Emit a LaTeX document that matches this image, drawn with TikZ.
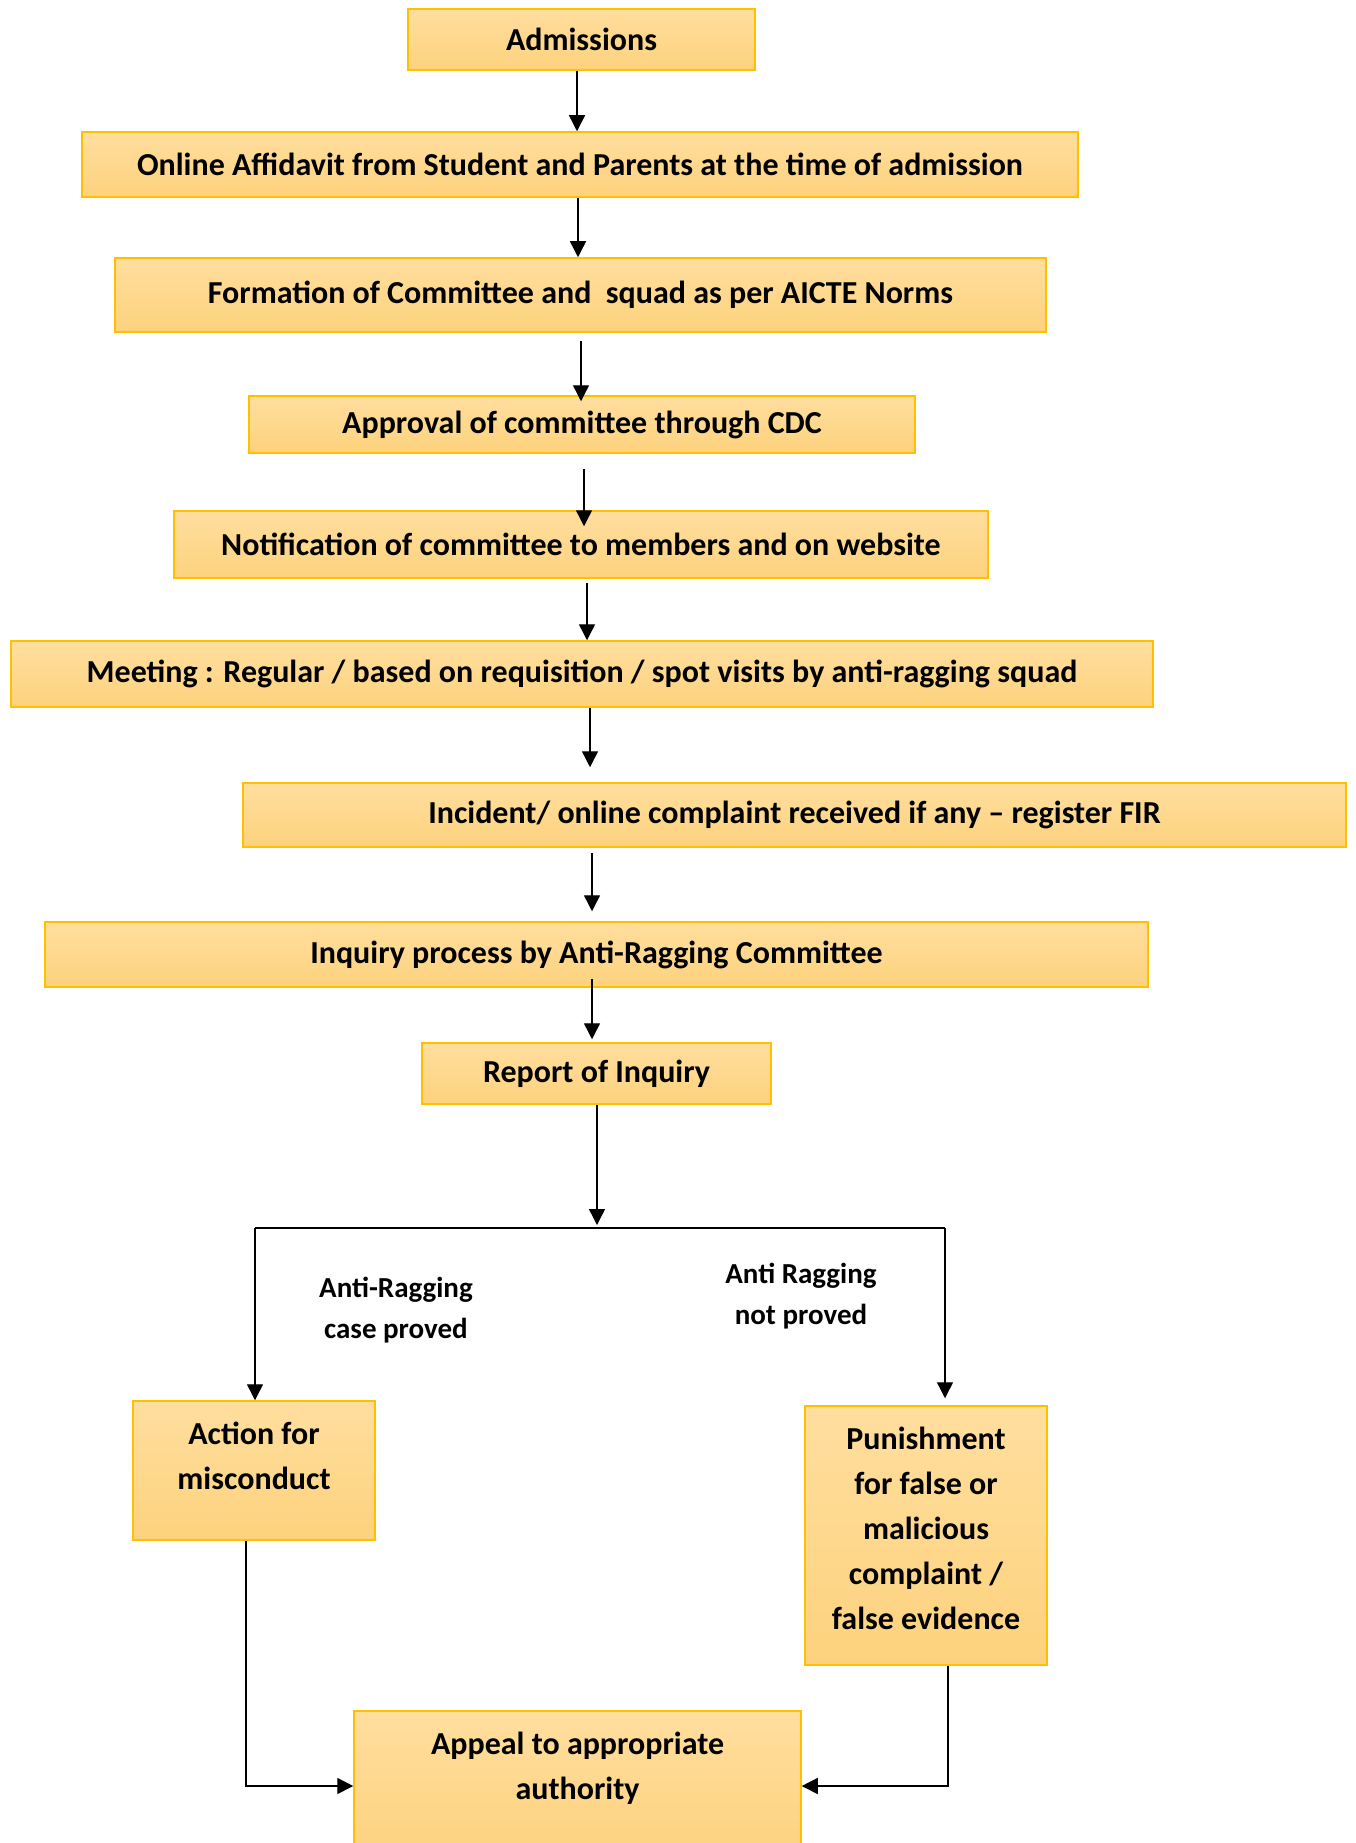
\documentclass[tikz,border=0pt]{standalone}
\usepackage{fontspec}
\setmainfont{Carlito}
\usetikzlibrary{arrows.meta,positioning}

\definecolor{boxtop}{RGB}{255,222,158}
\definecolor{boxbottom}{RGB}{253,210,125}
\definecolor{boxline}{RGB}{255,192,0}

\tikzset{
    flowbox/.style={rectangle, draw=boxline, line width=1.5pt, top color=boxtop,
        bottom color=boxbottom, inner sep=0pt, align=center,
        font=\bfseries\fontsize{32}{45}\selectfont},
    flowarrow/.style={line width=1.4pt, -{Triangle[width=16pt,length=16pt]}},
    flowline/.style={line width=1.4pt},
    caselabel/.style={align=center, font=\bfseries\fontsize{29}{41}\selectfont}
}

\begin{document}
\begin{tikzpicture}[x=1pt,y=-1pt]
    \clip (0,0) rectangle (1355,1843);
    \fill[white] (0,0) rectangle (1355,1843);

    % Main chain of steps
    \node[flowbox, minimum width=347pt, minimum height=61pt] (adm) at (581.5,39.5) {Admissions};
    \node[flowbox, minimum width=996pt, minimum height=65pt] (aff) at (580,164.5)
        {Online Affidavit from Student and Parents at the time of admission};
    \node[flowbox, minimum width=931pt, minimum height=74pt] (form) at (580.5,295)
        {Formation of Committee and\ \ squad as per AICTE Norms};
    \node[flowbox, minimum width=666pt, minimum height=57pt] (appr) at (582,424.5)
        {Approval of committee through CDC};
    \node[flowbox, minimum width=814pt, minimum height=67pt] (noti) at (581,544.5)
        {Notification of committee to members and on website};
    \node[flowbox, minimum width=1142pt, minimum height=66pt] (meet) at (582,674)
        {Meeting : Regular / based on requisition / spot visits by anti-ragging squad};
    \node[flowbox, minimum width=1103pt, minimum height=64pt] (inc) at (794.5,815)
        {Incident/ online complaint received if any -- register FIR};
    \node[flowbox, minimum width=1103pt, minimum height=65pt] (inq) at (596.5,954.5)
        {Inquiry process by Anti-Ragging Committee};
    \node[flowbox, minimum width=349pt, minimum height=61pt] (rep) at (596.5,1073.5)
        {Report of Inquiry};

    % Outcome boxes
    \node[flowbox, minimum width=242pt, minimum height=139pt] (act) at (254,1470.5)
        {Action for\\misconduct\\[-15pt]\mbox{}};
    \node[flowbox, minimum width=242pt, minimum height=259pt] (pun) at (926,1535.5)
        {Punishment\\for false or\\malicious\\complaint /\\false evidence\\[-31pt]\mbox{}};
    \node[flowbox, minimum width=447pt, minimum height=150pt] (app) at (577.5,1786)
        {Appeal to appropriate\\authority\\[-5pt]\mbox{}};

    % Branch labels
    \node[caselabel] (proved) at (396,1310) {Anti-Ragging\\case proved};
    \node[caselabel] (notproved) at (801,1296) {Anti Ragging\\not proved};

    % Split points
    \coordinate (lt) at (255,1228);
    \coordinate (rt) at (945,1228);

    % Connection arrows
    \draw[flowarrow] ([xshift=-4.5pt]adm.south) -- ([xshift=-4.5pt]adm.south |- aff.north);
    \draw[flowarrow] ([xshift=-2pt]aff.south) -- ([xshift=-2pt]aff.south |- form.north);
    \draw[flowarrow, shorten <=8pt, shorten >=-6pt] ([xshift=0.5pt]form.south)
        -- ([xshift=0.5pt]form.south |- appr.north);
    \draw[flowarrow, shorten <=15pt, shorten >=-16pt] ([xshift=2pt]appr.south)
        -- ([xshift=2pt]appr.south |- noti.north);
    \draw[flowarrow, shorten <=4pt] ([xshift=6pt]noti.south) -- ([xshift=6pt]noti.south |- meet.north);
    \draw[flowarrow, shorten >=15pt] ([xshift=8pt]meet.south) -- ([xshift=8pt]meet.south |- inc.north);
    \draw[flowarrow, shorten <=5pt, shorten >=10pt] ([xshift=-4.5pt]inq.north |- inc.south)
        -- ([xshift=-4.5pt]inq.north);
    \draw[flowarrow, shorten <=-9pt, shorten >=3pt] ([xshift=-4.5pt]inq.south)
        -- ([xshift=-4.5pt]inq.south |- rep.north);
    \draw[flowarrow, shorten >=3pt] ([xshift=0.5pt]rep.south) -- ([xshift=0.5pt]rep.south |- lt);

    \draw[flowline] (lt) -- (rt);
    \draw[flowarrow] (lt) -- (lt |- act.north);
    \draw[flowarrow, shorten >=7pt] (rt) -- (rt |- pun.north);

    \draw[flowarrow] ([xshift=-8pt]act.south) |- (app.west);
    \draw[flowarrow] ([xshift=22pt]pun.south) |- (app.east);
\end{tikzpicture}
\end{document}
